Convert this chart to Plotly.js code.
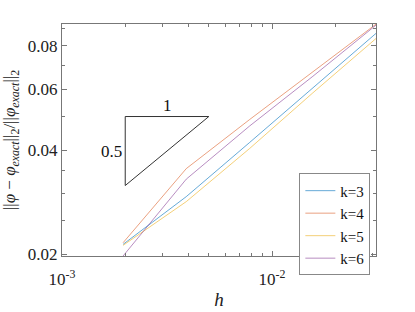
<!DOCTYPE html>
<html>
<head>
<meta charset="utf-8">
<script src="https://cdn.plot.ly/plotly-3.0.1.min.js"></script>
<style>html,body{margin:0;padding:0;background:#fff;}#chart{width:415px;height:312px;}</style>
</head>
<body>
<div id="chart"></div>
<script>
const h = [1/512, 1/256, 1/128, 1/64, 1/32];
const errK3 = [0.02137, 0.02936, 0.04205, 0.0605, 0.0869];
const errK4 = [0.0216, 0.03537, 0.04898, 0.0671, 0.0924];
const errK5 = [0.02123, 0.0284, 0.0404, 0.0585, 0.0840];
const errK6 = [0.01978, 0.03298, 0.04692, 0.0653, 0.0918];
const seriesNames = ['k=3', 'k=4', 'k=5', 'k=6'];
const seriesColors = ['rgba(0,114,189,0.6)', 'rgba(217,83,25,0.55)', 'rgba(237,177,32,0.6)', 'rgba(126,47,142,0.55)'];
const triX = [0.002, 0.005, 0.002, 0.002];
const triY = [0.05, 0.05, 0.0316, 0.05];
const xTickVals = [0.001, 0.01];
const xTickText = ['10<sup>-3</sup>', '10<sup>-2</sup>'];
const xMinor = [0.002,0.003,0.004,0.005,0.006,0.007,0.008,0.009,0.02,0.03];
const yTickVals = [0.02, 0.04, 0.06, 0.08];
const yTickText = ['0.02', '0.04', '0.06', '0.08'];
const yMinor = [0.025, 0.03, 0.035, 0.05, 0.07, 0.09];

const allErr = [errK3, errK4, errK5, errK6];
const traces = allErr.map((e, i) => ({
  x: h, y: e, type: 'scatter', mode: 'lines', name: seriesNames[i],
  line: {color: seriesColors[i], width: 1}
}));
traces.push({x: triX, y: triY, type: 'scatter', mode: 'lines', showlegend: false,
  line: {color: '#333', width: 1}, hoverinfo: 'skip'});

const serif = 'Liberation Serif';
const layout = {
  width: 415, height: 312,
  margin: {l: 62, r: 39, t: 24, b: 56},
  paper_bgcolor: '#fff', plot_bgcolor: '#fff',
  font: {family: serif, size: 16, color: '#222'},
  showlegend: true,
  legend: {x: 0.982, xanchor: 'right', y: 0.356, yanchor: 'top',
    bgcolor: '#fff', bordercolor: '#888', borderwidth: 1,
    font: {family: serif, size: 15, color: '#111'}, tracegroupgap: 0},
  xaxis: {type: 'log', range: [-3, Math.log10(1/32)], autorange: false,
    tickmode: 'array', tickvals: xTickVals, ticktext: xTickText,
    ticks: 'inside', ticklen: 5, tickcolor: '#777', showline: true, linecolor: '#777',
    mirror: 'allticks', showgrid: false, zeroline: false, ticklabelstandoff: 8,
    tickfont: {family: serif, size: 17, color: '#222'},
    minor: {tickmode: 'array', tickvals: xMinor, ticks: 'inside', ticklen: 3, tickcolor: '#777', showgrid: false},
    title: {text: '<i>h</i>', font: {family: serif, size: 19, color: '#222'}, standoff: 4}},
  yaxis: {type: 'log', range: [Math.log10(0.01978), Math.log10(0.0925)], autorange: false,
    tickmode: 'array', tickvals: yTickVals, ticktext: yTickText,
    ticks: 'inside', ticklen: 5, tickcolor: '#777', showline: true, linecolor: '#777',
    mirror: 'allticks', showgrid: false, zeroline: false,
    tickfont: {family: serif, size: 17, color: '#222'},
    minor: {tickmode: 'array', tickvals: yMinor, ticks: 'inside', ticklen: 3, tickcolor: '#777', showgrid: false},
    title: {text: '||<i>φ</i> − <i>φ</i><sub><i>exact</i></sub>||<sub>2</sub>/||<i>φ</i><sub><i>exact</i></sub>||<sub>2</sub>',
      font: {family: serif, size: 17, color: '#222'}, standoff: 9}},
  annotations: [
    {x: Math.log10(Math.sqrt(triX[0]*triX[1])), y: Math.log10(triY[0]), xref: 'x', yref: 'y',
     text: '1', showarrow: false, yanchor: 'bottom', yshift: 0, font: {family: serif, size: 17, color: '#111'}},
    {x: Math.log10(triX[0]), y: (Math.log10(triY[0]) + Math.log10(triY[2])) / 2, xref: 'x', yref: 'y',
     text: '0.5', showarrow: false, xanchor: 'right', xshift: -1, font: {family: serif, size: 17, color: '#111'}}
  ]
};
Plotly.newPlot('chart', traces, layout, {displayModeBar: false, staticPlot: true});
</script>
</body>
</html>
